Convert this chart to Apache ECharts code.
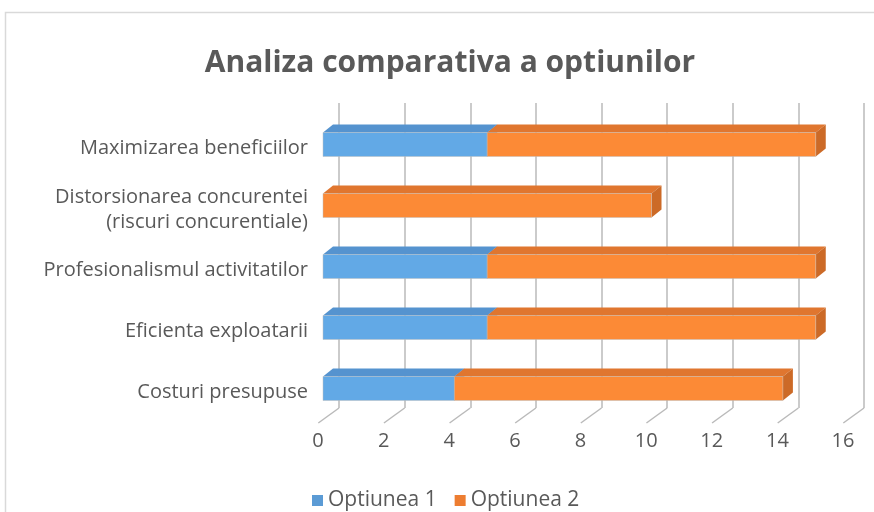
<!DOCTYPE html>
<html>
<head>
<meta charset="utf-8">
<title>Analiza comparativa a optiunilor</title>
<script src="https://cdn.jsdelivr.net/npm/echarts@6/dist/echarts.min.js"></script>
<style>
    html, body { margin: 0; padding: 0; background: #fff; }
    #main { width: 874px; height: 512px; }
</style>
</head>
<body>
<div id="main"></div>
<script>
// date
var categorii = ['Maximizarea beneficiilor', 'Distorsionarea concurentei\n(riscuri concurentiale)', 'Profesionalismul activitatilor', 'Eficienta exploatarii', 'Costuri presupuse'];
var optiunea1 = [5, 0, 5, 5, 4];
var optiunea2 = [10, 10, 10, 10, 10];
var ticks = [0, 2, 4, 6, 8, 10, 12, 14, 16];

var textColor = '#595959';
var font = '"Open Sans", "Noto Sans", sans-serif';

// culori fete 3D
var fete = {
    albastru: { front: '#62a9e6', top: '#5593cf', side: '#4f86bd', legend: '#5b9bd5' },
    portocaliu: { front: '#fc8a36', top: '#e0762f', side: '#cc6a27', legend: '#ed7d31' }
};

var adancime = { dx: 10, dy: 8 };
var grosime = 24;

// bara 3D
function bara3d(culori){
    return function(params, api){
        var start = api.value(0);
        var end = api.value(1);
        var cat = api.value(2);
        if(end - start <= 0){
            return null;
        }
        var p0 = api.coord([start, cat]);
        var p1 = api.coord([end, cat]);
        var yTop = p0[1] - grosime / 2;
        var x0 = p0[0], x1 = p1[0];
        var dx = adancime.dx, dy = adancime.dy;
        return {
            type: 'group',
            children: [{
                type: 'polygon',
                shape: { points: [[x0, yTop], [x1, yTop], [x1 + dx, yTop - dy], [x0 + dx, yTop - dy]] },
                style: { fill: culori.top }
            }, {
                type: 'polygon',
                shape: { points: [[x1, yTop], [x1 + dx, yTop - dy], [x1 + dx, yTop + grosime - dy], [x1, yTop + grosime]] },
                style: { fill: culori.side }
            }, {
                type: 'rect',
                shape: { x: x0, y: yTop, width: x1 - x0, height: grosime },
                style: { fill: culori.front, stroke: 'rgba(190,190,190,0.6)', lineWidth: 0.8 }
            }]
        };
    };
}

function dateSerie(baza, valori){
    var d = [];
    for(var i = 0; i < valori.length; i++){
        var s = baza ? baza[i] : 0;
        d.push([s, s + valori[i], i]);
    }
    return d;
}

function chart(){
    var myChart = echarts.init(document.getElementById('main'));

    var option = {
        animation: false,
        backgroundColor: '#fff',
        textStyle: { fontFamily: font },
        title: {
            text: 'Analiza comparativa a optiunilor',
            left: 445,
            top: 43,
            textAlign: 'center',
            textStyle: { fontFamily: font, fontSize: 30, fontWeight: 'bold', color: textColor }
        },
        graphic: [{
            type: 'rect',
            shape: { x: 5.5, y: 12.5, width: 900, height: 600 },
            style: { fill: 'none', stroke: '#d9d9d9', lineWidth: 1.5 },
            silent: true
        }],
        legend: {
            left: 307,
            top: 485,
            itemWidth: 11,
            itemHeight: 11,
            itemGap: 18,
            icon: 'rect',
            textStyle: { fontFamily: font, fontSize: 21, color: textColor },
            data: ['Optiunea 1', 'Optiunea 2']
        },
        grid: [
            // peretele din spate
            { left: 339, width: 525, top: 103, height: 305 },
            // barele
            { left: 323, width: 525.6, top: 114, height: 305 },
            // etichete axa x
            { left: 318, width: 525, top: 103, height: 320 },
            // etichete categorii
            { left: 323, width: 525.6, top: 118, height: 305 }
        ],
        xAxis: [{
            gridIndex: 0, type: 'value', min: 0, max: 16, interval: 2,
            axisLine: { show: false }, axisTick: { show: false }, axisLabel: { show: false },
            splitLine: { show: true, lineStyle: { color: '#bababa', width: 1.5 } }
        }, {
            gridIndex: 1, type: 'value', min: 0, max: 16, interval: 2,
            axisLine: { show: false }, axisTick: { show: false }, axisLabel: { show: false },
            splitLine: { show: false }
        }, {
            gridIndex: 2, type: 'value', min: 0, max: 16, interval: 2,
            axisLine: { show: false }, axisTick: { show: false }, splitLine: { show: false },
            axisLabel: { margin: 8, fontFamily: font, fontSize: 20, color: textColor }
        }, {
            gridIndex: 3, type: 'value', min: 0, max: 16, show: false
        }],
        yAxis: [{
            gridIndex: 0, type: 'value', min: 0, max: 1, show: false
        }, {
            gridIndex: 1, type: 'category', inverse: true, data: categorii,
            axisLine: { show: false }, axisTick: { show: false }, axisLabel: { show: false }
        }, {
            gridIndex: 2, type: 'value', min: 0, max: 1, show: false
        }, {
            gridIndex: 3, type: 'category', inverse: true, data: categorii,
            axisLine: { show: false }, axisTick: { show: false },
            axisLabel: { margin: 15, fontFamily: font, fontSize: 20, lineHeight: 25, color: textColor, align: 'right' }
        }],
        series: [{
            // liniile podelei
            type: 'custom',
            xAxisIndex: 0, yAxisIndex: 0,
            silent: true,
            data: ticks.map(function(t){ return [t]; }),
            renderItem: function(params, api){
                var p = api.coord([api.value(0), 0]);
                return {
                    type: 'line',
                    shape: { x1: p[0], y1: p[1], x2: p[0] - 20.7, y2: p[1] + 15 },
                    style: { stroke: '#bababa', lineWidth: 1.5 }
                };
            }
        }, {
            name: 'Optiunea 1',
            type: 'custom',
            xAxisIndex: 1, yAxisIndex: 1,
            itemStyle: { color: fete.albastru.legend },
            encode: { x: [0, 1], y: 2 },
            data: dateSerie(null, optiunea1),
            renderItem: bara3d(fete.albastru)
        }, {
            name: 'Optiunea 2',
            type: 'custom',
            xAxisIndex: 1, yAxisIndex: 1,
            itemStyle: { color: fete.portocaliu.legend },
            encode: { x: [0, 1], y: 2 },
            data: dateSerie(optiunea1, optiunea2),
            renderItem: bara3d(fete.portocaliu)
        }]
    };

    myChart.setOption(option);
}

chart();
</script>
</body>
</html>
